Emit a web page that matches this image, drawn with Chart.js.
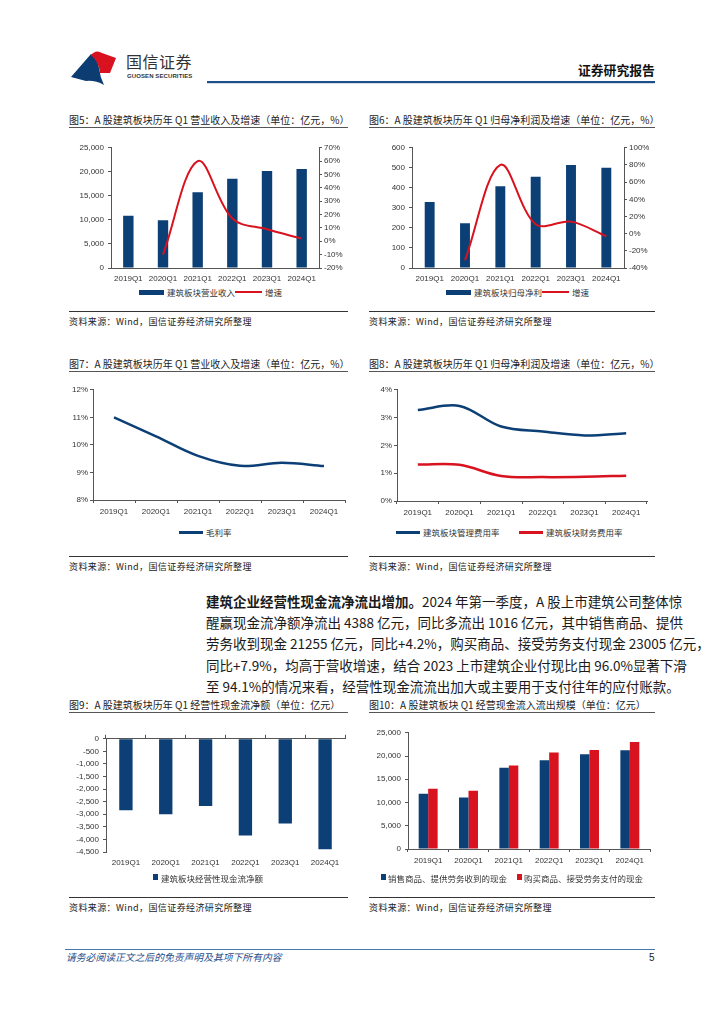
<!DOCTYPE html>
<html>
<head>
<meta charset="utf-8">
<script src="https://cdn.jsdelivr.net/npm/chart.js@4.4.1/dist/chart.umd.min.js"></script>
<style>
body{margin:0;width:724px;height:1024px;background:#fff;position:relative;overflow:hidden;font-family:"Noto Sans CJK SC",sans-serif;color:#222}
.title{position:absolute;height:15px;line-height:15px;font-size:10px;white-space:nowrap;overflow:hidden;border-bottom:1.5px solid #555}
.src{position:absolute;border-top:1px solid #333;padding-top:3px;line-height:13px;font-size:9px;letter-spacing:0.4px}
.leg{position:absolute;font-size:8.5px;line-height:10px;white-space:nowrap;color:#333}
.sw{position:absolute}
canvas{position:absolute}
.para{position:absolute;left:206px;width:449px;font-size:13.5px;line-height:21.2px;top:591px;color:#1a1a1a}
.para div{text-align:justify;text-align-last:justify;white-space:nowrap}
</style>
</head>
<body>

<!-- header -->
<svg style="position:absolute;left:0;top:0" width="724" height="100">
  <path d="M71,77 L91,54 Q98,60 99,68 Q100,77 104,85 Q95,80 86,81 Z" fill="#0b3d73"/>
  <path d="M91,55 Q96,49 102,53 L116,58 L110,73 L100,73 Q99,62 91,55 Z" fill="#d8121e"/>
  <rect x="207" y="81" width="448" height="2.2" fill="#1f4e8c"/>
</svg>
<div style="position:absolute;left:126px;top:51px;font-size:16px;line-height:20px;color:#333;letter-spacing:0.5px">国信证券</div>
<div style="position:absolute;left:127px;top:73px;font-size:6px;line-height:7px;color:#333;font-family:'Liberation Sans';font-weight:bold;letter-spacing:0.1px">GUOSEN SECURITIES</div>
<div style="position:absolute;left:578px;top:62px;font-size:12.8px;line-height:16px;font-weight:bold;color:#111">证券研究报告</div>

<!-- row 1 -->
<div class="title" style="left:69px;top:112px;width:279px">图5：A 股建筑板块历年 Q1 营业收入及增速（单位：亿元，%）</div>
<div class="title" style="left:369px;top:112px;width:286px">图6：A 股建筑板块历年 Q1 归母净利润及增速（单位：亿元，%）</div>
<canvas id="c5" width="292" height="147" style="left:64px;top:139px"></canvas>
<canvas id="c6" width="296" height="147" style="left:364px;top:139px"></canvas>
<div class="sw" style="left:139px;top:290px;width:25px;height:5px;background:#0b3f75"></div>
<div class="leg" style="left:167px;top:287px">建筑板块营业收入</div>
<div class="sw" style="left:235px;top:291px;width:27px;height:2px;background:#d8121e"></div>
<div class="leg" style="left:265px;top:287px">增速</div>
<div class="sw" style="left:446px;top:290px;width:25px;height:5px;background:#0b3f75"></div>
<div class="leg" style="left:474px;top:287px">建筑板块归母净利</div>
<div class="sw" style="left:542px;top:291px;width:27px;height:2px;background:#d8121e"></div>
<div class="leg" style="left:572px;top:287px">增速</div>
<div class="src" style="left:69px;top:311px;width:279px">资料来源：Wind，国信证券经济研究所整理</div>
<div class="src" style="left:369px;top:311px;width:286px">资料来源：Wind，国信证券经济研究所整理</div>

<!-- row 2 -->
<div class="title" style="left:69px;top:356px;width:279px">图7：A 股建筑板块历年 Q1 营业收入及增速（单位：亿元，%）</div>
<div class="title" style="left:369px;top:356px;width:286px">图8：A 股建筑板块历年 Q1 归母净利润及增速（单位：亿元，%）</div>
<canvas id="c7" width="292" height="137" style="left:60px;top:383px"></canvas>
<canvas id="c8" width="292" height="138" style="left:364px;top:383px"></canvas>
<div class="sw" style="left:179px;top:531px;width:24px;height:2.5px;background:#0b3f75"></div>
<div class="leg" style="left:206px;top:527px">毛利率</div>
<div class="sw" style="left:396px;top:531px;width:24px;height:2.5px;background:#0b3f75"></div>
<div class="leg" style="left:423px;top:527px">建筑板块管理费用率</div>
<div class="sw" style="left:519px;top:531px;width:24px;height:2.5px;background:#d8121e"></div>
<div class="leg" style="left:546px;top:527px">建筑板块财务费用率</div>
<div class="src" style="left:69px;top:556px;width:279px">资料来源：Wind，国信证券经济研究所整理</div>
<div class="src" style="left:369px;top:556px;width:286px">资料来源：Wind，国信证券经济研究所整理</div>

<!-- paragraph -->
<div class="para">
  <div><b>建筑企业经营性现金流净流出增加。</b>2024 年第一季度，A 股上市建筑公司整体惊</div>
  <div>醒赢现金流净额净流出 4388 亿元，同比多流出 1016 亿元，其中销售商品、提供</div>
  <div>劳务收到现金 21255 亿元，同比+4.2%，购买商品、接受劳务支付现金 23005 亿元，</div>
  <div>同比+7.9%，均高于营收增速，结合 2023 上市建筑企业付现比由 96.0%显著下滑</div>
  <div style="text-align-last:left">至 94.1%的情况来看，经营性现金流流出加大或主要用于支付往年的应付账款。</div>
</div>

<!-- row 3 -->
<div class="title" style="left:69px;top:697px;width:279px">图9：A 股建筑板块历年 Q1 经营性现金流净额（单位：亿元）</div>
<div class="title" style="left:369px;top:697px;width:286px">图10：A 股建筑板块 Q1 经营现金流入流出规模（单位：亿元）</div>
<canvas id="c9" width="292" height="143" style="left:60px;top:730px"></canvas>
<canvas id="c10" width="296" height="146" style="left:360px;top:724px"></canvas>
<div class="sw" style="left:153px;top:874px;width:5px;height:6px;background:#0b3f75"></div>
<div class="leg" style="left:161px;top:873px">建筑板块经营性现金流净额</div>
<div class="sw" style="left:381px;top:874px;width:5px;height:6px;background:#0b3f75"></div>
<div class="leg" style="left:388px;top:873px">销售商品、提供劳务收到的现金</div>
<div class="sw" style="left:517px;top:874px;width:5px;height:6px;background:#d8121e"></div>
<div class="leg" style="left:524px;top:873px">购买商品、接受劳务支付的现金</div>
<div class="src" style="left:69px;top:897px;width:279px">资料来源：Wind，国信证券经济研究所整理</div>
<div class="src" style="left:369px;top:897px;width:286px">资料来源：Wind，国信证券经济研究所整理</div>

<!-- footer -->
<div style="position:absolute;left:65px;top:949px;width:590px;border-top:1px solid #4a78ad"></div>
<div style="position:absolute;left:66px;top:951px;font-size:9.8px;line-height:13px;font-style:italic;color:#1f4e8c">请务必阅读正文之后的免责声明及其项下所有内容</div>
<div style="position:absolute;left:649px;top:951px;font-size:10px;line-height:13px;color:#222;font-family:'Liberation Sans'">5</div>

<script>
const CATEGORIES = ['2019Q1', '2020Q1', '2021Q1', '2022Q1', '2023Q1', '2024Q1'];

// 图5
const revenue = [10860, 9920, 15750, 18570, 20170, 20580];
const revenueGrowth = [null, -10, 60, 17, 9, 2];
// 图6
const netProfit = [329, 224, 408, 455, 514, 500];
const netProfitGrowth = [null, -31, 80, 11, 14, -3];
// 图7
const grossMargin = [11.0, 10.31, 9.6, 9.24, 9.35, 9.23];
// 图8
const mgmtExpenseRate = [3.27, 3.42, 2.68, 2.50, 2.36, 2.44];
const finExpenseRate = [1.31, 1.30, 0.90, 0.86, 0.87, 0.91];
// 图9
const opCashFlow = [-2840, -3004, -2675, -3841, -3372, -4388];
// 图10
const cashReceived = [11900, 11070, 17480, 19080, 20400, 21255];
const cashPaid = [12950, 12530, 17970, 20750, 21320, 23005];

const BLUE = '#0b3f75';
const RED = '#d8121e';
const AXIS = '#555';
const TICK_FONT = {family: 'Liberation Sans', size: 8};

const thousands = v => Number(v).toLocaleString('en-US');
const pct = v => v + '%';

function yAxis(min, max, step, width, fmt, extra){
    return Object.assign({
        min: min, max: max,
        ticks: {stepSize: step, autoSkip: false, font: TICK_FONT, color: '#333', padding: 4, callback: fmt},
        grid: {drawOnChartArea: false, drawTicks: true, tickLength: 3, color: AXIS},
        border: {display: true, color: AXIS},
        afterFit: s => { s.width = width; }
    }, extra || {});
}

function xAxis(height, pad, ticks){
    return {
        offset: true,
        ticks: {font: TICK_FONT, color: '#333', padding: pad, maxRotation: 0},
        grid: {offset: true, drawOnChartArea: false, drawTicks: ticks, tickLength: 3, color: AXIS},
        border: {display: true, color: AXIS},
        afterFit: s => { s.height = height; }
    };
}

function baseOptions(scales, padRight){
    return {
        responsive: false,
        animation: false,
        layout: {padding: {left: 0, top: 0, right: padRight || 0, bottom: 0}},
        plugins: {legend: {display: false}, tooltip: {enabled: false}},
        scales: scales
    };
}

// 图5
new Chart(document.getElementById('c5'), {
    type: 'bar',
    data: {
        labels: CATEGORIES,
        datasets: [
            {type: 'line', label: '增速', data: revenueGrowth, yAxisID: 'y1', borderColor: RED, borderWidth: 2, pointRadius: 0, tension: 0.35, order: 0},
            {label: '建筑板块营业收入', data: revenue, yAxisID: 'y', backgroundColor: BLUE, barPercentage: 0.3, categoryPercentage: 1, order: 1}
        ]
    },
    options: baseOptions({
        x: xAxis(18, 6, false),
        y: yAxis(0, 25000, 5000, 47, thousands),
        y1: yAxis(-20, 70, 10, 37, pct, {position: 'right', ticks: {stepSize: 10, autoSkip: false, font: TICK_FONT, color: '#333', padding: 2, callback: pct}})
    })
});

// 图6
new Chart(document.getElementById('c6'), {
    type: 'bar',
    data: {
        labels: CATEGORIES,
        datasets: [
            {type: 'line', label: '增速', data: netProfitGrowth, yAxisID: 'y1', borderColor: RED, borderWidth: 2, pointRadius: 0, tension: 0.35, order: 0},
            {label: '建筑板块归母净利', data: netProfit, yAxisID: 'y', backgroundColor: BLUE, barPercentage: 0.28, categoryPercentage: 1, order: 1}
        ]
    },
    options: baseOptions({
        x: xAxis(18, 6, false),
        y: yAxis(0, 600, 100, 48, v => v),
        y1: yAxis(-40, 100, 20, 36, pct, {position: 'right', ticks: {stepSize: 20, autoSkip: false, font: TICK_FONT, color: '#333', padding: 2, callback: pct}})
    })
});

// 图7
new Chart(document.getElementById('c7'), {
    type: 'line',
    data: {
        labels: CATEGORIES,
        datasets: [
            {label: '毛利率', data: grossMargin, borderColor: BLUE, borderWidth: 2.5, pointRadius: 0, tension: 0.35}
        ]
    },
    options: baseOptions({
        x: xAxis(20, 4, true),
        y: yAxis(8, 12, 1, 33, pct, {ticks: {stepSize: 1, autoSkip: false, font: TICK_FONT, color: '#333', padding: 2, callback: pct}})
    }, 7)
});

// 图8
new Chart(document.getElementById('c8'), {
    type: 'line',
    data: {
        labels: CATEGORIES,
        datasets: [
            {label: '建筑板块管理费用率', data: mgmtExpenseRate, borderColor: BLUE, borderWidth: 2.5, pointRadius: 0, tension: 0.35},
            {label: '建筑板块财务费用率', data: finExpenseRate, borderColor: RED, borderWidth: 2.5, pointRadius: 0, tension: 0.35}
        ]
    },
    options: baseOptions({
        x: xAxis(20, 4, true),
        y: yAxis(0, 4, 1, 33, pct, {ticks: {stepSize: 1, autoSkip: false, font: TICK_FONT, color: '#333', padding: 2, callback: pct}})
    }, 9)
});

// 图9
new Chart(document.getElementById('c9'), {
    type: 'bar',
    data: {
        labels: CATEGORIES,
        datasets: [
            {label: '建筑板块经营性现金流净额', data: opCashFlow, backgroundColor: BLUE, barPercentage: 0.335, categoryPercentage: 1}
        ]
    },
    options: baseOptions({
        x: {
            offset: true,
            ticks: {font: TICK_FONT, color: '#333', padding: 6, maxRotation: 0},
            grid: {drawOnChartArea: false, drawTicks: false, tickLength: 0},
            border: {display: false},
            afterFit: s => { s.height = 21; }
        },
        x2: {
            type: 'category',
            position: 'top',
            labels: CATEGORIES,
            offset: true,
            ticks: {display: false},
            grid: {offset: true, drawOnChartArea: false, drawTicks: true, tickLength: 4, color: AXIS},
            border: {display: true, color: AXIS},
            afterFit: s => { s.height = 5; }
        },
        y: yAxis(-4500, 0, 500, 46, thousands)
    }, 7)
});

// 图10
new Chart(document.getElementById('c10'), {
    type: 'bar',
    data: {
        labels: CATEGORIES,
        datasets: [
            {label: '销售商品、提供劳务收到的现金', data: cashReceived, backgroundColor: BLUE, barPercentage: 1, categoryPercentage: 0.47},
            {label: '购买商品、接受劳务支付的现金', data: cashPaid, backgroundColor: RED, barPercentage: 1, categoryPercentage: 0.47}
        ]
    },
    options: baseOptions({
        x: xAxis(21, 4, true),
        y: yAxis(0, 25000, 5000, 48, thousands)
    }, 6)
});
</script>
</body>
</html>
